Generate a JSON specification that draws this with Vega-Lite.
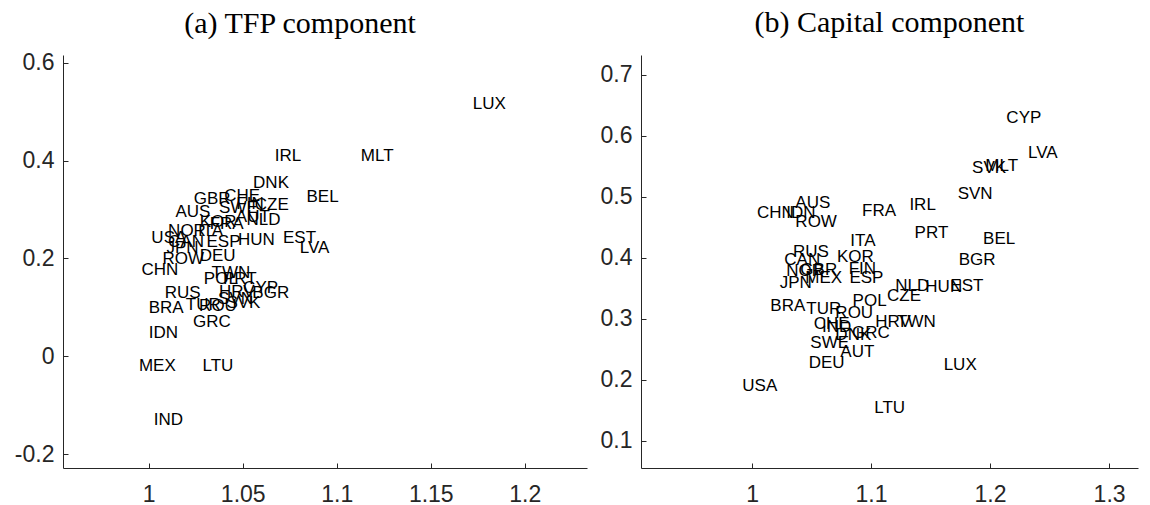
{
  "$schema": "https://vega.github.io/schema/vega-lite/v6.json",
  "autosize": {"type": "none"},
  "padding": {"left": 63, "top": 55, "right": 1087, "bottom": 450},
  "background": "white",
  "bounds": "flush",
  "spacing": 54,
  "config": {
    "view": {"stroke": null},
    "axis": {
      "grid": false,
      "domainColor": "#262626",
      "domainWidth": 1,
      "tickColor": "#262626",
      "tickSize": -5,
      "labelFont": "Liberation Sans",
      "labelFontSize": 23,
      "labelColor": "#262626",
      "title": null,
      "labelExpr": "'' + datum.value"
    },
    "title": {"font": "Liberation Serif", "fontSize": 30, "fontWeight": "normal", "color": "black", "baseline": "alphabetic"}
  },
  "datasets": {
    "tfp": [
      {"country": "LUX", "x": 1.1723, "y": 0.5155},
      {"country": "IRL", "x": 1.067, "y": 0.409},
      {"country": "MLT", "x": 1.1128, "y": 0.409},
      {"country": "DNK", "x": 1.0555, "y": 0.3546},
      {"country": "BEL", "x": 1.0839, "y": 0.326},
      {"country": "GBR", "x": 1.0239, "y": 0.3213},
      {"country": "CHE", "x": 1.0401, "y": 0.328},
      {"country": "SWE", "x": 1.0374, "y": 0.3023},
      {"country": "FIN", "x": 1.0466, "y": 0.311},
      {"country": "CZE", "x": 1.0564, "y": 0.309},
      {"country": "AUS", "x": 1.0142, "y": 0.2953},
      {"country": "AUT", "x": 1.0463, "y": 0.2838},
      {"country": "NLD", "x": 1.052, "y": 0.2783},
      {"country": "KOR", "x": 1.0271, "y": 0.2748},
      {"country": "FRA", "x": 1.0324, "y": 0.27},
      {"country": "NOR", "x": 1.0103, "y": 0.2565},
      {"country": "ITA", "x": 1.0262, "y": 0.2565},
      {"country": "USA", "x": 1.0014, "y": 0.241},
      {"country": "CAN", "x": 1.0103, "y": 0.234},
      {"country": "ESP", "x": 1.0307, "y": 0.234},
      {"country": "HUN", "x": 1.0475, "y": 0.2374},
      {"country": "EST", "x": 1.0714, "y": 0.241},
      {"country": "LVA", "x": 1.0803, "y": 0.2205},
      {"country": "JPN", "x": 1.0094, "y": 0.2205},
      {"country": "ROW", "x": 1.0073, "y": 0.1986},
      {"country": "DEU", "x": 1.0271, "y": 0.2047},
      {"country": "CHN", "x": 0.9961, "y": 0.176},
      {"country": "TWN", "x": 1.0334, "y": 0.1693},
      {"country": "POL", "x": 1.0293, "y": 0.1577},
      {"country": "PRT", "x": 1.0395, "y": 0.1577},
      {"country": "CYP", "x": 1.0502, "y": 0.1387},
      {"country": "HRV", "x": 1.0374, "y": 0.1317},
      {"country": "BGR", "x": 1.0551, "y": 0.1284},
      {"country": "SVN", "x": 1.0369, "y": 0.1161},
      {"country": "SVK", "x": 1.0413, "y": 0.1092},
      {"country": "RUS", "x": 1.0085, "y": 0.1284},
      {"country": "BRA", "x": 1.0, "y": 0.099},
      {"country": "TUR", "x": 1.0197, "y": 0.1045},
      {"country": "ROU", "x": 1.0268, "y": 0.1025},
      {"country": "GRC", "x": 1.0236, "y": 0.0703},
      {"country": "IDN", "x": 1.0, "y": 0.0466},
      {"country": "MEX", "x": 0.9948, "y": -0.02},
      {"country": "LTU", "x": 1.0286, "y": -0.02},
      {"country": "IND", "x": 1.0027, "y": -0.1307}
    ],
    "capital": [
      {"country": "CYP", "x": 1.2137, "y": 0.6295},
      {"country": "LVA", "x": 1.2319, "y": 0.5721},
      {"country": "SVK", "x": 1.1849, "y": 0.5475},
      {"country": "MLT", "x": 1.196, "y": 0.5503},
      {"country": "SVN", "x": 1.1728, "y": 0.504},
      {"country": "IRL", "x": 1.1322, "y": 0.4864},
      {"country": "PRT", "x": 1.1366, "y": 0.441},
      {"country": "BEL", "x": 1.1941, "y": 0.4302},
      {"country": "BGR", "x": 1.1736, "y": 0.3962},
      {"country": "EST", "x": 1.1666, "y": 0.3536},
      {"country": "HUN", "x": 1.1456, "y": 0.3525},
      {"country": "NLD", "x": 1.1204, "y": 0.3536},
      {"country": "CZE", "x": 1.1134, "y": 0.3377},
      {"country": "TWN", "x": 1.1218, "y": 0.295},
      {"country": "HRV", "x": 1.1036, "y": 0.295},
      {"country": "LUX", "x": 1.161, "y": 0.224},
      {"country": "LTU", "x": 1.1027, "y": 0.1536},
      {"country": "USA", "x": 0.9918, "y": 0.1896},
      {"country": "AUS", "x": 1.0364, "y": 0.4892},
      {"country": "CHN", "x": 1.0042, "y": 0.4728},
      {"country": "IDN", "x": 1.0288, "y": 0.4728},
      {"country": "ROW", "x": 1.0364, "y": 0.458},
      {"country": "FRA", "x": 1.0924, "y": 0.4766},
      {"country": "ITA", "x": 1.0826, "y": 0.4274},
      {"country": "RUS", "x": 1.0344, "y": 0.4098},
      {"country": "CAN", "x": 1.0271, "y": 0.3962},
      {"country": "KOR", "x": 1.0714, "y": 0.4006},
      {"country": "NOR", "x": 1.0288, "y": 0.3787},
      {"country": "GBR", "x": 1.0406, "y": 0.3798},
      {"country": "FIN", "x": 1.0812, "y": 0.381},
      {"country": "MEX", "x": 1.0448, "y": 0.3672},
      {"country": "ESP", "x": 1.0818, "y": 0.3672},
      {"country": "JPN", "x": 1.0232, "y": 0.358},
      {"country": "BRA", "x": 1.0154, "y": 0.3208},
      {"country": "TUR", "x": 1.0456, "y": 0.3154},
      {"country": "ROU", "x": 1.07, "y": 0.3098},
      {"country": "POL", "x": 1.0845, "y": 0.3295},
      {"country": "CHE", "x": 1.0518, "y": 0.2913},
      {"country": "IND", "x": 1.0588, "y": 0.2859},
      {"country": "DNK", "x": 1.07, "y": 0.2733},
      {"country": "GRC", "x": 1.084, "y": 0.277},
      {"country": "SWE", "x": 1.049, "y": 0.2607},
      {"country": "AUT", "x": 1.0742, "y": 0.2459},
      {"country": "DEU", "x": 1.0476, "y": 0.2269}
    ]
  },
  "hconcat": [
    {
      "width": 524,
      "height": 413,
      "title": {"text": "(a) TFP component", "dx": -25, "offset": 13},
      "data": {"name": "tfp"},
      "mark": {"type": "text", "align": "left", "baseline": "middle", "font": "Liberation Sans", "fontSize": 17, "color": "black"},
      "encoding": {
        "text": {"field": "country", "type": "nominal"},
        "x": {
          "field": "x", "type": "quantitative",
          "scale": {"domain": [0.9544, 1.2331], "nice": false, "zero": false},
          "axis": {"values": [1, 1.05, 1.1, 1.15, 1.2], "labelPadding": 20}
        },
        "y": {
          "field": "y", "type": "quantitative",
          "scale": {"domain": [-0.2283, 0.6157], "nice": false, "zero": false},
          "axis": {"values": [-0.2, 0, 0.2, 0.4, 0.6], "labelPadding": 14}
        }
      }
    },
    {
      "width": 497,
      "height": 413,
      "title": {"text": "(b) Capital component", "offset": 17},
      "data": {"name": "capital"},
      "mark": {"type": "text", "align": "left", "baseline": "middle", "font": "Liberation Sans", "fontSize": 17, "color": "black"},
      "encoding": {
        "text": {"field": "country", "type": "nominal"},
        "x": {
          "field": "x", "type": "quantitative",
          "scale": {"domain": [0.9067, 1.3243], "nice": false, "zero": false},
          "axis": {"values": [1, 1.1, 1.2, 1.3], "labelPadding": 20}
        },
        "y": {
          "field": "y", "type": "quantitative",
          "scale": {"domain": [0.0557, 0.7323], "nice": false, "zero": false},
          "axis": {"values": [0.1, 0.2, 0.3, 0.4, 0.5, 0.6, 0.7], "labelPadding": 14}
        }
      }
    }
  ]
}
